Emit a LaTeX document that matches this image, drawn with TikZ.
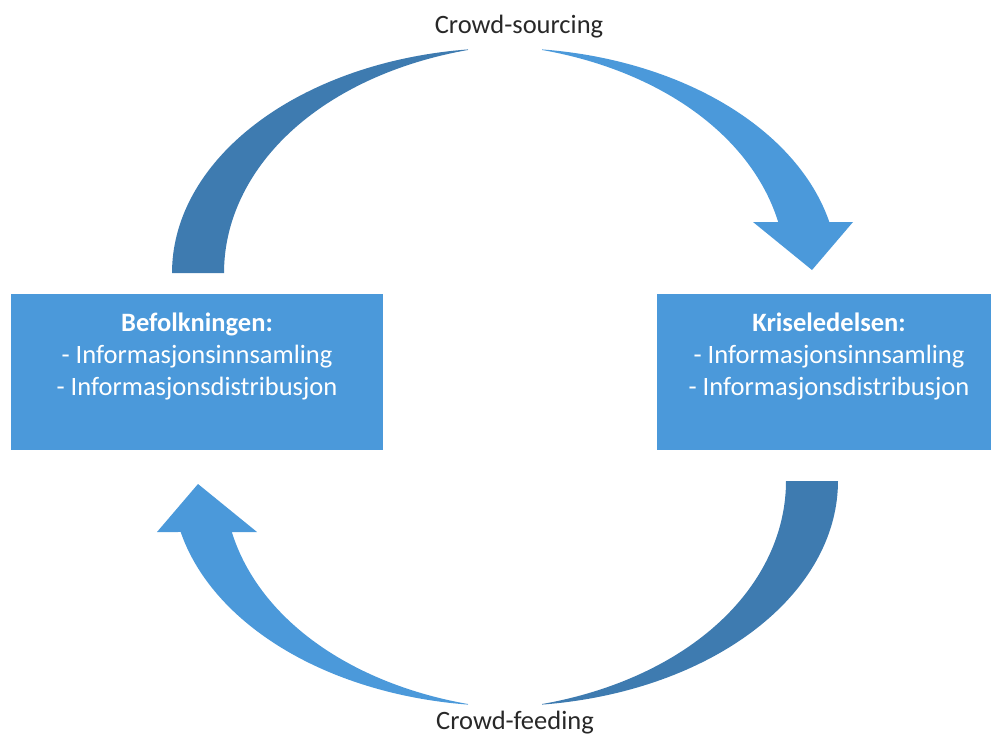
\documentclass[tikz,border=0pt]{standalone}
\usepackage{fontspec}
\setmainfont{Carlito}
\begin{document}
\definecolor{arcdark}{RGB}{62,123,176}
\definecolor{arclight}{RGB}{75,153,218}
\definecolor{labelgray}{RGB}{40,40,40}
% One half-loop of the cycle: a tapering tail and a tapering arrow.
% #1 = orientation (1 upper, -1 lower), #2 = y of the ellipse centre.
% Outer edge: ellipse rx 333, ry 225; inner edge: rx 281, ry 218 -> 225 at the tips.
\newcommand\flowloop[2]{%
  \fill[tailpart]
    plot[domain=180:96.38, samples=70] ({505+#1*333*cos(\x)},{#2-#1*225*sin(\x)})
    -- plot[domain=97.57:180, samples=70]
       ({505+#1*281*cos(\x)},{#2-#1*(218+7*((180-\x)/82.43)^4)*sin(\x)})
    -- cycle;
  \fill[headpart]
    plot[domain=83.62:13.1, samples=70] ({505+#1*333*cos(\x)},{#2-#1*225*sin(\x)})
    -- ({505+#1*348},{#2-#1*51})
    -- ({505+#1*307},{#2-#1*3})
    -- ({505+#1*248},{#2-#1*51})
    -- plot[domain=13.53:82.43, samples=70]
       ({505+#1*281*cos(\x)},{#2-#1*(218+7*(\x/82.43)^4)*sin(\x)})
    -- cycle;
}
\begin{tikzpicture}[x=1pt,y=-1pt,
  actor/.style={fill=arclight, draw=none},
  actortext/.style={text=white, align=center, font=\fontsize{26.5}{32}\selectfont},
  flowlabel/.style={text=labelgray, font=\fontsize{26.5}{30}\selectfont},
  tailpart/.style={fill=arcdark, draw=none},
  headpart/.style={fill=arclight, draw=none}]
\useasboundingbox (0,0) rectangle (991,736);

% the two parties
\fill[actor] (11,294) rectangle (383,450);
\fill[actor] (657,294) rectangle (991,450);
\node[actortext] (befolk) at (197,356)
  {\textbf{Befolkningen:}\\- Informasjonsinnsamling\\- Informasjonsdistribusjon};
\node[actortext] (krise) at (829,356)
  {\textbf{Kriseledelsen:}\\- Informasjonsinnsamling\\- Informasjonsdistribusjon};

% information flowing up and over, then back underneath
\flowloop{1}{273}
\flowloop{-1}{481}

\node[flowlabel] (sourcing) at (519,27) {Crowd-sourcing};
\node[flowlabel] (feeding) at (515,723) {Crowd-feeding};
\end{tikzpicture}
\end{document}
